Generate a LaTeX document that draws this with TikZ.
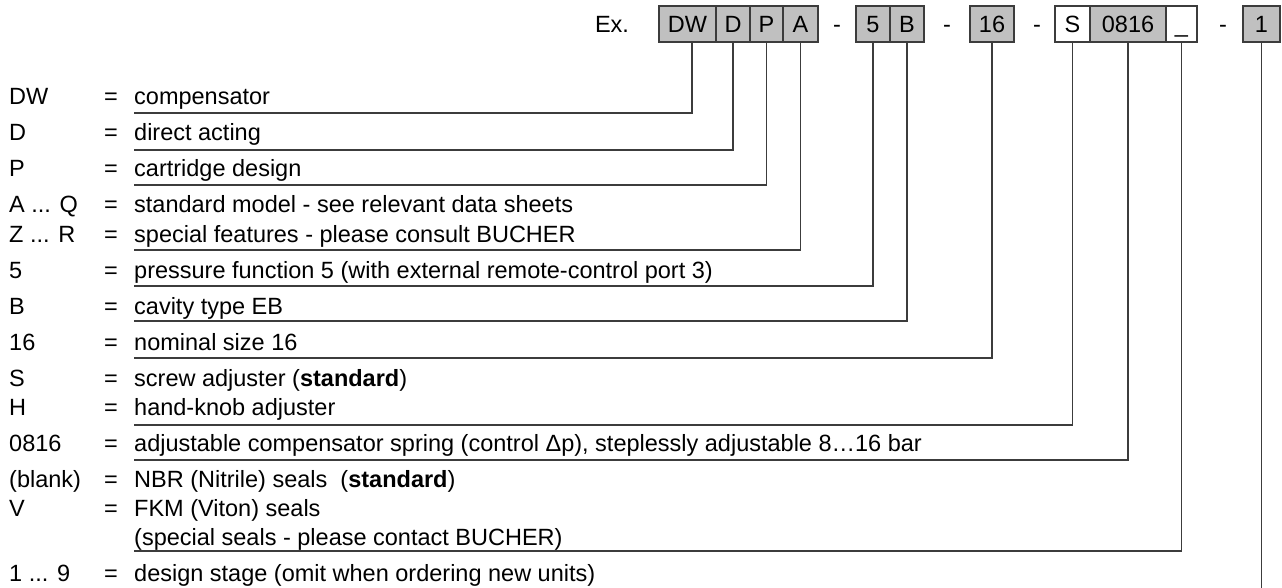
\documentclass[tikz,border=0pt]{standalone}
\usepackage{fontspec}
\setmainfont{Liberation Sans}
\usetikzlibrary{positioning}
\definecolor{codegray}{RGB}{192,192,192}
\definecolor{leadcolor}{RGB}{60,60,60}

\begin{document}
\begin{tikzpicture}[x=1pt, y=-1pt, font=\fontsize{23.5}{28}\selectfont,
    codebox/.style={draw=leadcolor, line width=1.2pt, fill=codegray, minimum height=36pt,
        inner sep=0pt, outer sep=0pt, text height=17pt, text depth=0pt},
    blankbox/.style={codebox, fill=white},
    codesep/.style={inner sep=0pt, minimum height=36pt, text height=17pt, text depth=0pt},
    lead/.style={draw=leadcolor, line width=1.2pt},
    keytext/.style={anchor=base west, inner sep=0pt},
    eqsign/.style={anchor=base, inner sep=0pt}]
    \useasboundingbox (0,0) rectangle (1282,588);

    % Order code
    \node[codesep] (ex) at (612,24) {Ex.};
    \node[codebox, minimum width=57pt, anchor=west] (dw) at (659,24) {DW};
    \node[codebox, minimum width=34pt, right=0pt of dw] (dact) {D};
    \node[codebox, minimum width=33pt, right=0pt of dact] (cart) {P};
    \node[codebox, minimum width=35pt, right=0pt of cart] (model) {A};
    \node[codesep] (dash1) at (837,24) {-};
    \node[codebox, minimum width=34pt, anchor=west] (press) at (856,24) {5};
    \node[codebox, minimum width=34pt, right=0pt of press] (cavity) {B};
    \node[codesep] (dash2) at (947,24) {-};
    \node[codebox, minimum width=44pt, anchor=west] (size) at (970,24) {16};
    \node[codesep] (dash3) at (1037,24) {-};
    \node[blankbox, minimum width=35pt, anchor=west] (adj) at (1055,24) {S};
    \node[codebox, minimum width=76pt, right=0pt of adj] (spring) {0816};
    \node[blankbox, minimum width=31pt, right=0pt of spring] (seal) {\_};
    \node[codesep] (dash4) at (1223,24) {-};
    \node[codebox, minimum width=37pt, anchor=west] (stage) at (1243,24) {1};

    % Key
    \node[keytext] (kdw) at (9,105) {DW};
    \node[eqsign] at (111,105) {=};
    \node[keytext] (tdw) at (134,105) {compensator};

    \node[keytext] (kdact) at (9,141) {D};
    \node[eqsign] at (111,141) {=};
    \node[keytext] (tdact) at (134,141) {direct acting};

    \node[keytext] (kcart) at (9,177) {P};
    \node[eqsign] at (111,177) {=};
    \node[keytext] (tcart) at (134,177) {cartridge design};

    \node[keytext] (kmodel) at (9,213) {A ... Q};
    \node[eqsign] at (111,213) {=};
    \node[keytext] (tmodel) at (134,213) {standard model - see relevant data sheets};
    \node[keytext] (kspecial) at (9,242) {Z ... R};
    \node[eqsign] at (111,242) {=};
    \node[keytext] (tspecial) at (134,242) {special features - please consult BUCHER};

    \node[keytext] (kpress) at (9,278) {5};
    \node[eqsign] at (111,278) {=};
    \node[keytext] (tpress) at (134,278) {pressure function 5 (with external remote-control port 3)};

    \node[keytext] (kcavity) at (9,314) {B};
    \node[eqsign] at (111,314) {=};
    \node[keytext] (tcavity) at (134,314) {cavity type EB};

    \node[keytext] (ksize) at (9,350) {16};
    \node[eqsign] at (111,350) {=};
    \node[keytext] (tsize) at (134,350) {nominal size 16};

    \node[keytext] (kadj) at (9,386) {S};
    \node[eqsign] at (111,386) {=};
    \node[keytext] (tadj) at (134,386) {screw adjuster (\textbf{standard})};
    \node[keytext] (khand) at (9,415) {H};
    \node[eqsign] at (111,415) {=};
    \node[keytext] (thand) at (134,415) {hand-knob adjuster};

    \node[keytext] (kspring) at (9,451) {0816};
    \node[eqsign] at (111,451) {=};
    \node[keytext] (tspring) at (134,451) {adjustable compensator spring (control Δp), steplessly adjustable 8…16 bar};

    \node[keytext] (kseal) at (9,487) {(blank)};
    \node[eqsign] at (111,487) {=};
    \node[keytext] (tseal) at (134,487) {NBR (Nitrile) seals\ \ (\textbf{standard})};
    \node[keytext] (kviton) at (9,516) {V};
    \node[eqsign] at (111,516) {=};
    \node[keytext] (tviton) at (134,516) {FKM (Viton) seals};
    \node[keytext] (tcontact) at (134,545) {(special seals - please contact BUCHER)};

    \node[keytext] (kstage) at (9,581) {1 ... 9};
    \node[eqsign] at (111,581) {=};
    \node[keytext] (tstage) at (134,581) {design stage (omit when ordering new units)};

    % Lead lines
    \coordinate (udw) at (134,113);
    \coordinate (udact) at (134,150);
    \coordinate (ucart) at (134,185);
    \coordinate (umodel) at (134,250);
    \coordinate (upress) at (134,286);
    \coordinate (ucavity) at (134,321);
    \coordinate (usize) at (134,358);
    \coordinate (uadj) at (134,425);
    \coordinate (uspring) at (134,460);
    \coordinate (useal) at (134,551);
    \coordinate (ustage) at (1262,588);

    \draw[lead] ([xshift=4.5pt]dw.south) |- (udw);
    \draw[lead] (dact.south) |- (udact);
    \draw[lead] (cart.south) |- (ucart);
    \draw[lead] (model.south) |- (umodel);
    \draw[lead] (press.south) |- (upress);
    \draw[lead] (cavity.south) |- (ucavity);
    \draw[lead] (size.south) |- (usize);
    \draw[lead] (adj.south) |- (uadj);
    \draw[lead] (spring.south) |- (uspring);
    \draw[lead] (seal.south) |- (useal);
    \draw[lead] (stage.south) -- (stage.south |- ustage);
\end{tikzpicture}
\end{document}
